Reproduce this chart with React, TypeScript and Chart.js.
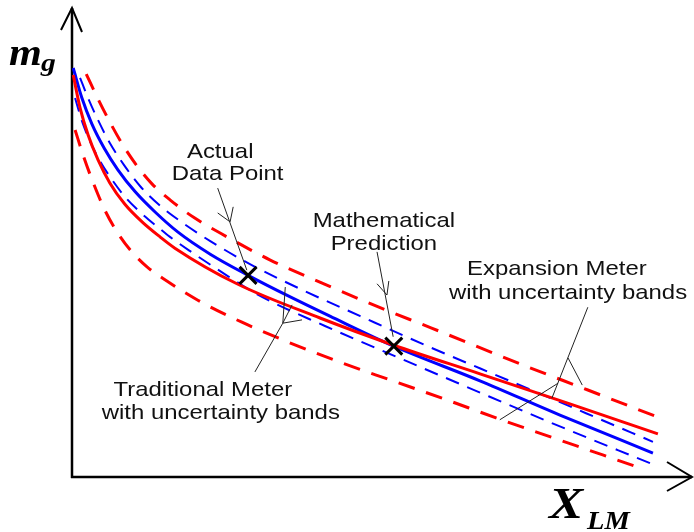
import React, { useEffect, useRef } from "react";
import { Chart, registerables } from "chart.js";

Chart.register(...registerables);

// Traditional meter reading (blue) and its uncertainty bands
const tradX = [0.02, 0.16, 0.32, 0.52, 0.74, 1.02, 1.34, 1.71, 2.23, 2.84, 3.52, 4.16, 5.19, 6.58, 7.87, 9.37];
const tradY = [8.72, 8.08, 7.53, 7.01, 6.55, 6.08, 5.65, 5.22, 4.75, 4.3, 3.84, 3.43, 2.79, 2.05, 1.32, 0.51];

const tradUpperX = [0.13, 0.26, 0.42, 0.61, 0.84, 1.1, 1.39, 1.74, 2.23, 2.87, 3.68, 4.65, 5.77, 7.06, 8.29, 9.37];
const tradUpperY = [8.51, 8.08, 7.61, 7.12, 6.65, 6.2, 5.82, 5.46, 5.03, 4.54, 4.01, 3.43, 2.77, 2.05, 1.36, 0.75];

const tradLowerX = [0.05, 0.16, 0.29, 0.45, 0.65, 0.87, 1.13, 1.42, 1.58, 1.9, 2.39, 2.98, 4.08, 5.24, 6.37, 7.74, 9.35];
const tradLowerY = [8.08, 7.59, 7.16, 6.74, 6.33, 5.95, 5.61, 5.29, 5.12, 4.82, 4.39, 3.9, 3.22, 2.56, 1.92, 1.15, 0.28];

// Expansion meter reading (red) and its uncertainty bands
const expX = [0.02, 0.13, 0.26, 0.42, 0.61, 0.85, 1.13, 1.42, 1.66, 2.66, 4.0, 5.19, 6.58, 8.03, 9.45];
const expY = [8.57, 7.87, 7.29, 6.76, 6.27, 5.82, 5.44, 5.12, 4.88, 4.12, 3.39, 2.81, 2.2, 1.56, 0.92];

const expUpperX = [0.23, 0.42, 0.61, 0.82, 1.05, 1.29, 1.58, 1.98, 2.5, 3.19, 4.11, 4.95, 5.79, 7.27, 8.31, 9.48];
const expUpperY = [8.59, 8.06, 7.57, 7.08, 6.63, 6.25, 5.91, 5.52, 5.12, 4.63, 4.09, 3.62, 3.18, 2.39, 1.86, 1.26];

const expLowerX = [0.05, 0.19, 0.35, 0.53, 0.73, 0.94, 1.21, 1.53, 2.03, 2.74, 3.48, 4.32, 5.13, 5.97, 6.84, 7.73, 8.56, 9.21];
const expLowerY = [7.4, 6.82, 6.25, 5.69, 5.22, 4.84, 4.48, 4.18, 3.77, 3.3, 2.88, 2.45, 2.07, 1.68, 1.26, 0.85, 0.47, 0.17];

// Marked points: measured value and model prediction
const actualPoint = { x: 2.84, y: 4.3 };
const predictedPoint = { x: 5.19, y: 2.79 };

// Callout texts: [text, centre x, baseline y] in data units
const callouts: [string, number, number][] = [
  ["Actual", 2.39, 6.8],
  ["Data Point", 2.51, 6.33],
  ["Mathematical", 5.03, 5.33],
  ["Prediction", 5.03, 4.84],
  ["Expansion Meter", 7.82, 4.31],
  ["with uncertainty bands", 8.0, 3.8],
  ["Traditional Meter", 2.11, 1.73],
  ["with uncertainty bands", 2.4, 1.24],
];

// Leader lines in data units: [x1, y1, x2, y2]
const leaders: [number, number, number, number][] = [
  // Actual Data Point
  [2.35, 6.16, 2.82, 4.41],
  [2.55, 5.44, 2.35, 5.63],
  [2.55, 5.44, 2.6, 5.76],
  // Mathematical Prediction
  [4.92, 4.8, 5.18, 2.99],
  [5.08, 3.88, 4.92, 4.12],
  [5.08, 3.88, 5.11, 4.18],
  // Traditional Meter
  [2.95, 2.24, 3.4, 3.28],
  [3.4, 3.28, 3.44, 4.05],
  [3.4, 3.28, 3.55, 3.67],
  [3.4, 3.28, 3.71, 3.35],
  // Expansion Meter
  [8.32, 3.62, 7.74, 1.68],
  [8.0, 2.54, 8.23, 1.96],
  [7.84, 2.0, 6.9, 1.22],
];

const zip = (xs: number[], ys: number[]) => xs.map((x, i) => ({ x, y: ys[i] }));

const RED = "#ff0000";
const BLUE = "#0000ff";
const TEXT_STRETCH = 1.14;

function drawStretched(
  ctx: CanvasRenderingContext2D,
  text: string,
  x: number,
  y: number,
  font: string,
  align: CanvasTextAlign
) {
  ctx.save();
  ctx.translate(x, y);
  ctx.scale(TEXT_STRETCH, 1);
  ctx.font = font;
  ctx.textAlign = align;
  ctx.textBaseline = "alphabetic";
  ctx.fillText(text, 0, 0);
  ctx.restore();
}

const axesPlugin = {
  id: "arrowAxes",
  beforeDatasetsDraw(chart: Chart) {
    const { ctx, chartArea } = chart;
    const { left, bottom, top, right } = chartArea;
    ctx.save();
    ctx.strokeStyle = "#000";
    ctx.lineWidth = 2.5;
    ctx.lineCap = "butt";
    ctx.beginPath();
    ctx.moveTo(left, bottom + 1);
    ctx.lineTo(left, top);
    ctx.moveTo(left - 1, bottom);
    ctx.lineTo(right, bottom);
    ctx.stroke();
    // arrow heads
    ctx.lineWidth = 2;
    ctx.beginPath();
    ctx.moveTo(left - 11, top + 22);
    ctx.lineTo(left, top);
    ctx.lineTo(left + 10, top + 24);
    ctx.moveTo(right - 25, bottom - 15);
    ctx.lineTo(right, bottom);
    ctx.lineTo(right - 25, bottom + 14);
    ctx.stroke();
    ctx.restore();
  },
  afterDatasetsDraw(chart: Chart) {
    const { ctx, chartArea } = chart;
    const xs = chart.scales.x;
    const ys = chart.scales.y;
    ctx.save();
    // leader lines
    ctx.strokeStyle = "#222";
    ctx.lineWidth = 1;
    ctx.beginPath();
    for (const [x1, y1, x2, y2] of leaders) {
      ctx.moveTo(xs.getPixelForValue(x1), ys.getPixelForValue(y1));
      ctx.lineTo(xs.getPixelForValue(x2), ys.getPixelForValue(y2));
    }
    ctx.stroke();
    // callout text
    ctx.fillStyle = "#111";
    for (const [t, x, y] of callouts) {
      drawStretched(ctx, t, xs.getPixelForValue(x), ys.getPixelForValue(y), '21px "Liberation Sans", Arial, sans-serif', "center");
    }
    // axis titles
    ctx.fillStyle = "#000";
    const { left, bottom, right } = chartArea;
    drawStretched(ctx, "m", left - 63, 65, 'italic bold 37px "Liberation Serif", "Times New Roman", serif', "left");
    drawStretched(ctx, "g", left - 31, 71, 'italic bold 26px "Liberation Serif", "Times New Roman", serif', "left");
    drawStretched(ctx, "X", right - 143, bottom + 41, 'italic bold 45px "Liberation Serif", "Times New Roman", serif', "left");
    drawStretched(ctx, "LM", right - 105, bottom + 52, 'italic bold 25px "Liberation Serif", "Times New Roman", serif', "left");
    ctx.restore();
  },
};

export default function App() {
  const canvasRef = useRef<HTMLCanvasElement | null>(null);

  useEffect(() => {
    const canvas = canvasRef.current;
    if (!canvas) return;
    const line = (data: { x: number; y: number }[], color: string, width: number, dash: number[]) => ({
      data,
      borderColor: color,
      backgroundColor: color,
      borderWidth: width,
      borderDash: dash,
      pointRadius: 0,
      fill: false,
      cubicInterpolationMode: "monotone" as const,
      clip: false as const,
    });
    const chart = new Chart(canvas, {
      type: "line",
      data: {
        datasets: [
          {
            data: [actualPoint, predictedPoint],
            showLine: false,
            pointStyle: "crossRot",
            pointRadius: 12,
            pointBorderWidth: 3,
            pointBorderColor: "#000",
            borderColor: "#000",
            clip: false,
          } as any,
          line(zip(expX, expY), RED, 3, []),
          line(zip(tradX, tradY), BLUE, 3, []),
          line(zip(tradUpperX, tradUpperY), BLUE, 2, [14, 9]),
          line(zip(tradLowerX, tradLowerY), BLUE, 2, [14, 9]),
          line(zip(expUpperX, expUpperY), RED, 3, [17, 12]),
          line(zip(expLowerX, expLowerY), RED, 3, [17, 12]),
        ],
      },
      options: {
        animation: false,
        responsive: true,
        maintainAspectRatio: false,
        layout: { autoPadding: false, padding: { left: 72, right: 2, top: 8, bottom: 55 } },
        plugins: { legend: { display: false }, tooltip: { enabled: false } },
        scales: {
          x: { type: "linear", min: 0, max: 10, display: false },
          y: { type: "linear", min: 0, max: 10, display: false },
        },
      },
      plugins: [axesPlugin],
    });
    return () => chart.destroy();
  }, []);

  return (
    <div style={{ position: "absolute", left: 0, top: 0, width: 694, height: 532, background: "#fff" }}>
      <canvas ref={canvasRef} />
    </div>
  );
}
